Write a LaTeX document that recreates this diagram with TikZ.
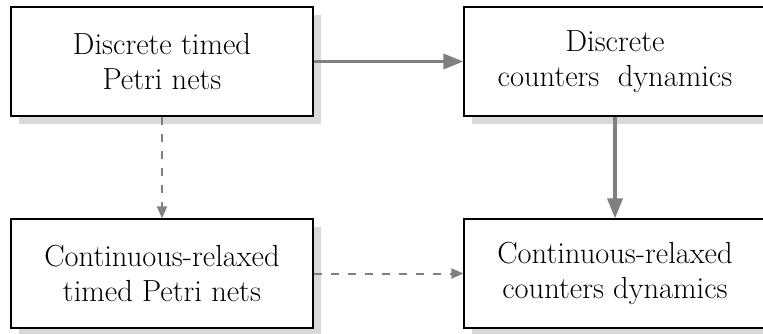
\documentclass[tikz,border=0pt]{standalone}
\usetikzlibrary{arrows.meta,shadows}
\begin{document}
\begin{tikzpicture}[x=1pt,y=-1pt,
  stagebox/.style={draw=black, line width=1.2pt, fill=white, rectangle,
    minimum width=302pt, minimum height=109pt, inner sep=0pt, align=center,
    font=\fontsize{30.5}{35}\selectfont,
    drop shadow={shadow xshift=8pt, shadow yshift=-8pt, fill=black!15, opacity=1}},
  solidarrow/.style={draw=black!50, line width=3.5pt,
    -{Triangle[length=20pt,width=15pt]}},
  dasharrow/.style={draw=black!50, line width=2pt, dash pattern=on 8pt off 9pt,
    -{Triangle[length=12pt,width=10pt]}}
]
\useasboundingbox (0,0) rectangle (763,334);
\node[stagebox] (A) at (162,61.5) {Discrete timed\\Petri nets};
\node[stagebox] (B) at (615,61.5) {Discrete\\counters\ \ dynamics};
\node[stagebox] (C) at (162,273.5) {Continuous-relaxed\\timed Petri nets};
\node[stagebox] (D) at (615,273.5) {Continuous-relaxed\\counters dynamics};
\draw[solidarrow] (A.east) -- (B.west);
\draw[solidarrow] (B.south) -- (D.north);
\draw[dasharrow] (A.south) -- (C.north);
\draw[dasharrow] (C.east) -- (D.west);
\end{tikzpicture}
\end{document}
